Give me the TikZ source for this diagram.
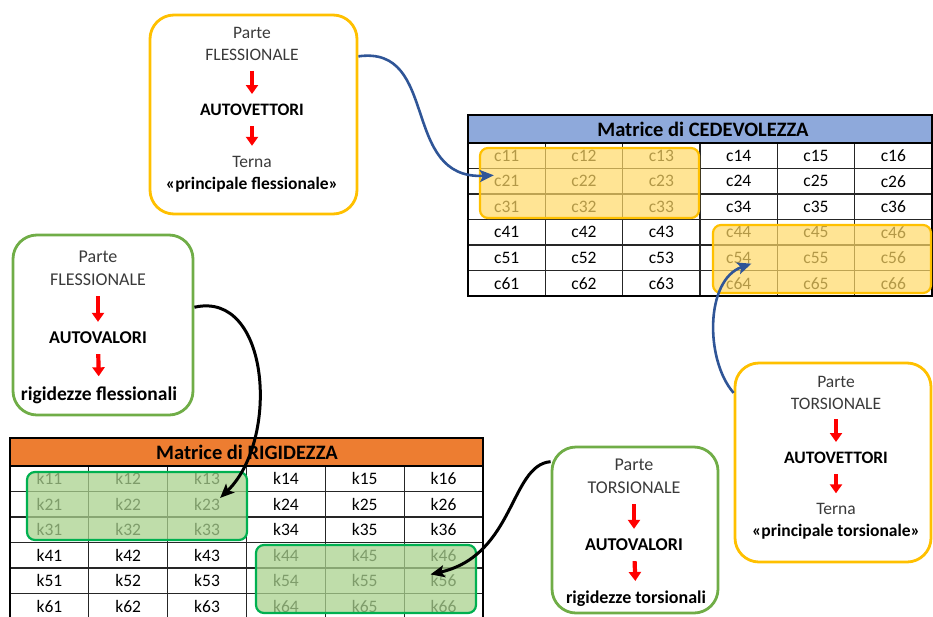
\documentclass[tikz,border=0pt]{standalone}
\usepackage{fontspec}
\setmainfont{Carlito}
\usetikzlibrary{positioning, arrows.meta}

\definecolor{vecyellow}{HTML}{FFC000}
\definecolor{valgreen}{HTML}{70AD47}
\definecolor{linkblue}{HTML}{2F5597}
\definecolor{headblue}{HTML}{8EA9DB}
\definecolor{headorange}{HTML}{ED7D31}
\definecolor{hlyellow}{HTML}{FFD966}
\definecolor{hlgreen}{HTML}{A9D18E}
\definecolor{hlgreenline}{HTML}{00B050}
\definecolor{textgray}{HTML}{3A3A3A}

\begin{document}
\begin{tikzpicture}[
    x=1pt, y=-1pt,
    % Styles
    vec-box/.style={draw=vecyellow, line width=2.8pt, rounded corners=24pt},
    val-box/.style={draw=valgreen, line width=2.8pt, rounded corners=24pt},
    txt/.style={font=\fontsize{17.5}{22}\selectfont, text=textgray, align=center, inner sep=0pt},
    key/.style={txt, font=\fontsize{17.5}{22}\selectfont\bfseries, text=black},
    val-txt/.style={txt, font=\fontsize{18}{23}\selectfont},
    val-key/.style={key, font=\fontsize{18}{23}\selectfont\bfseries},
    step-arrow/.style={-{Triangle[width=12pt,length=9pt]}, line width=4.2pt, red, shorten <=10pt, shorten >=10pt},
    blue-link/.style={-{Stealth[length=14pt,width=12pt,inset=3pt]}, line width=2.6pt, linkblue},
    black-link/.style={-{Stealth[length=14pt,width=12pt,inset=3pt]}, line width=3pt, black},
    grid-line/.style={line width=1.1pt, black!85},
    frame-line/.style={line width=2.2pt, black},
    head-title/.style={font=\fontsize{20.5}{22}\selectfont\bfseries, inner sep=0pt},
    cell/.style={font=\fontsize{17.5}{20}\selectfont, inner sep=0pt},
    hl-vec/.style={draw=vecyellow, line width=2.2pt, fill=hlyellow, fill opacity=0.7, rounded corners=8pt},
    hl-val/.style={draw=hlgreenline, line width=2.2pt, fill=hlgreen, fill opacity=0.75, rounded corners=8pt},
]

\useasboundingbox (0,0) rectangle (933,616);
\clip (0,0) rectangle (933,616);

% Matrice di CEDEVOLEZZA
\fill[headblue] (468,115) rectangle (932,143);
\foreach \c in {1,...,5}
    \draw[grid-line] ({468+\c*77.33},143) -- ({468+\c*77.33},296);
\foreach \r in {1,...,5}
    \draw[grid-line] (468,{143+\r*25.5}) -- (932,{143+\r*25.5});
\draw[frame-line] (468,115) rectangle (932,296);
\draw[frame-line] (468,143) -- (932,143);
\node[head-title] (cedtitle) at (703,129.5) {Matrice di CEDEVOLEZZA};
\foreach \r in {1,...,6}
    \foreach \c in {1,...,6}
        \node[cell] (c\r\c) at ({468+(\c-0.5)*77.33},{143+(\r-0.5)*25.5}) {c\r\c};
\draw[hl-vec] (480,148) rectangle (699,218);
\draw[hl-vec] (713,225) rectangle (931,293);

% Matrice di RIGIDEZZA
\fill[headorange] (10,438) rectangle (483,466);
\foreach \c in {1,...,5}
    \draw[grid-line] ({10+\c*78.83},466) -- ({10+\c*78.83},619);
\foreach \r in {1,...,5}
    \draw[grid-line] (10,{466+\r*25.5}) -- (483,{466+\r*25.5});
\draw[frame-line] (10,438) rectangle (483,619);
\draw[frame-line] (10,466) -- (483,466);
\node[head-title] (rigtitle) at (247,452.5) {Matrice di RIGIDEZZA};
\foreach \r in {1,...,6}
    \foreach \c in {1,...,6}
        \node[cell] (k\r\c) at ({10+(\c-0.5)*78.83},{466+(\r-0.5)*25.5}) {k\r\c};
\draw[hl-val] (27,472) rectangle (247,540);
\draw[hl-val] (256,545) rectangle (476,613);

% Parte flessionale: autovettori
\node[vec-box, minimum width=207pt, minimum height=199pt] (fv) at (253.5,114.5) {};
\node[txt] (fvtop) at (252,44) {Parte\\FLESSIONALE};
\node[key] (fvmid) at (252,110) {AUTOVETTORI};
\node[txt] (fvbot) at (252,174) {Terna\\{\bfseries\color{black}«principale flessionale»}};
\draw[step-arrow] (fvtop) -- (fvmid);
\draw[step-arrow] (fvmid) -- (fvbot);

% Parte torsionale: autovettori
\node[vec-box, minimum width=196pt, minimum height=199pt] (tv) at (833,462.5) {};
\node[txt] (tvtop) at (836,392.5) {Parte\\TORSIONALE};
\node[key] (tvmid) at (836,458) {AUTOVETTORI};
\node[txt] (tvbot) at (836,521.5) {Terna\\{\bfseries\color{black}«principale torsionale»}};
\draw[step-arrow] (tvtop) -- (tvmid);
\draw[step-arrow] (tvmid) -- (tvbot);

% Parte flessionale: autovalori
\node[val-box, minimum width=180pt, minimum height=180pt] (fa) at (103,325) {};
\node[val-txt] (fatop) at (98,268.5) {Parte\\FLESSIONALE};
\node[val-key] (famid) at (98,338) {AUTOVALORI};
\node[key, font=\fontsize{19.5}{23}\selectfont\bfseries] (fabot) at (99,395) {rigidezze flessionali};
\draw[step-arrow] (fatop) -- (famid);
\draw[step-arrow] (famid) -- (fabot);

% Parte torsionale: autovalori
\node[val-box, minimum width=166pt, minimum height=166pt] (ta) at (635,530) {};
\node[val-txt] (tatop) at (634,476.5) {Parte\\TORSIONALE};
\node[val-key] (tamid) at (634,545) {AUTOVALORI};
\node[val-key] (tabot) at (636,599) {rigidezze torsionali};
\draw[step-arrow] (tatop) -- (tamid);
\draw[step-arrow] (tamid) -- (tabot);

% Links to the matrices
\draw[blue-link] (fv.29) .. controls (440,45) and (400,180) .. (c21.north west);
\draw[blue-link] (tv.145) .. controls (705,360) and (705,280) .. (c54.south east);
\draw[black-link] (fa.11) .. controls (270,290) and (280,440) .. (k23.north east);
\draw[black-link] (ta.141) .. controls (510,465) and (515,555) .. (k56.north west);

\end{tikzpicture}
\end{document}
